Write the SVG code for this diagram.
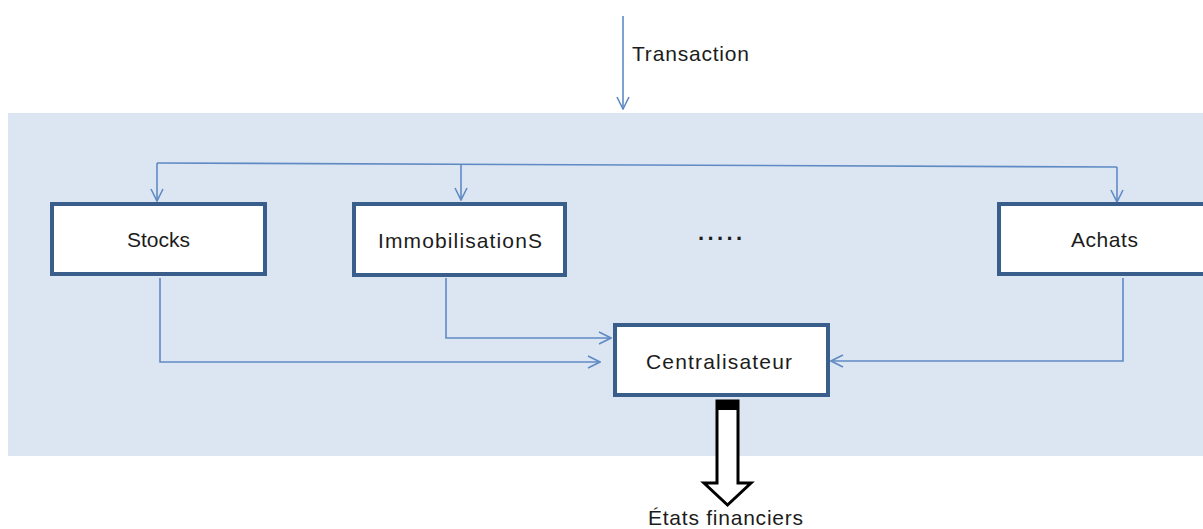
<svg xmlns="http://www.w3.org/2000/svg" width="1203" height="529" viewBox="0 0 1203 529">
<style>
.box{fill:#fff;stroke:#3a5e8c;stroke-width:4}
.c{fill:none;stroke:#5f8ac3;stroke-width:1.6}
.t{font-family:"Liberation Sans",Arial,sans-serif;font-size:21px;fill:#1c1c1c}
</style>
<defs>
<marker id="a" viewBox="0 0 14 14" refX="13" refY="7" markerWidth="14" markerHeight="14" markerUnits="userSpaceOnUse" orient="auto">
<path d="M1,1 L13,7 L1,13" fill="none" stroke="#5f8ac3" stroke-width="1.6"/>
</marker>
</defs>
<rect x="8" y="113" width="1195" height="343" fill="#dce6f2"/>
<g id="connectors">
<line class="c" x1="623" y1="16" x2="623" y2="109" marker-end="url(#a)"/>
<polyline class="c" points="157,163 1117,167"/>
<line class="c" x1="157" y1="163" x2="157" y2="201" marker-end="url(#a)"/>
<line class="c" x1="461" y1="164" x2="461" y2="200" marker-end="url(#a)"/>
<line class="c" x1="1117" y1="167" x2="1117" y2="202" marker-end="url(#a)"/>
<polyline class="c" points="160,278 160,362 600,362" marker-end="url(#a)"/>
<polyline class="c" points="446,278 446,338 611,338" marker-end="url(#a)"/>
<polyline class="c" points="1123,278 1123,361 831,361" marker-end="url(#a)"/>
<path d="M717,401 H738 V483 H751 L727.5,505 L704,483 H717 Z" fill="#fff" stroke="#000" stroke-width="3"/>
<rect x="717" y="401" width="21" height="9" fill="#000"/>
</g>
<text class="t" x="632" y="61" textLength="117">Transaction</text>
<g id="stocks">
<rect class="box" x="52" y="204" width="213" height="70"/>
<text class="t" x="127" y="247" textLength="63">Stocks</text>
</g>
<g id="immobilisations">
<rect class="box" x="354" y="204" width="211" height="71"/>
<text class="t" x="378" y="248" textLength="164">ImmobilisationS</text>
</g>
<g id="dots">
<text x="698" y="240" style="font-family:'Liberation Sans',Arial,sans-serif;font-size:22px;font-weight:bold;fill:#1c1c1c" textLength="44">.....</text>
</g>
<g id="achats">
<rect class="box" x="999" y="204" width="210" height="70"/>
<text class="t" x="1071" y="247" textLength="67">Achats</text>
</g>
<g id="centralisateur">
<rect class="box" x="615" y="325" width="213" height="70"/>
<text class="t" x="646" y="369" textLength="146">Centralisateur</text>
</g>
<text class="t" x="648" y="525" textLength="155">États financiers</text>
</svg>
